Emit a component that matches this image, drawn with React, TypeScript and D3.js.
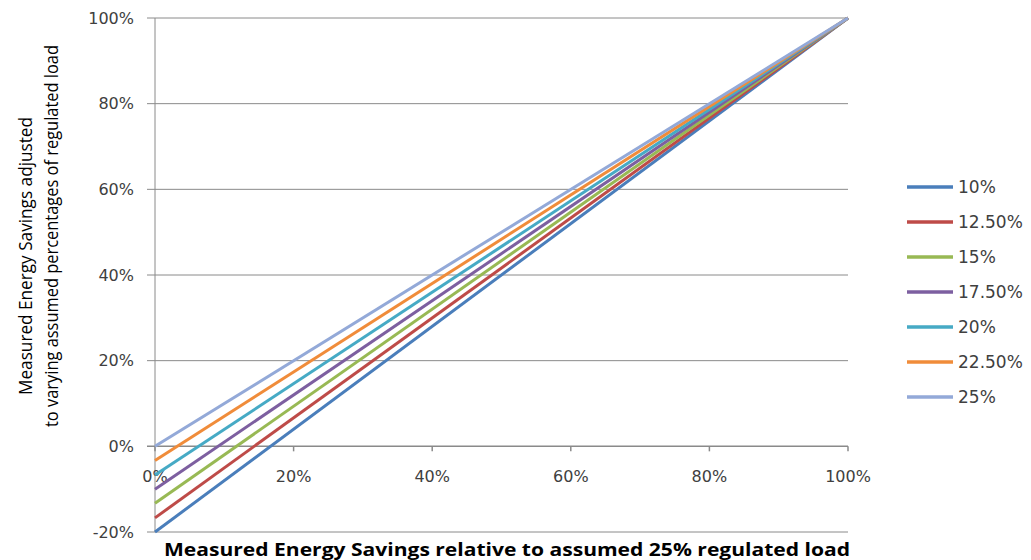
import { useEffect, useRef } from 'react'
import * as d3 from 'd3'

// assumed regulated load share for each series
const seriesNames = ['10%', '12.50%', '15%', '17.50%', '20%', '22.50%', '25%']
const seriesColors = ['#4a7ebb', '#be4b48', '#98b954', '#7d5fa0', '#46aac5', '#f08c3a', '#93a9d8']
// measured savings (x) and adjusted savings (y) for each series, in %
const xValues = [0, 100]
const startValues = [-20, -16.7, -13.3, -10, -6.7, -3.3, 0]
const endValues = [100, 100, 100, 100, 100, 100, 100]
const xTicks = [0, 20, 40, 60, 80, 100]
const yTicks = [-20, 0, 20, 40, 60, 80, 100]

const W = 1031
const H = 560
const PLOT = { left: 155, right: 848, top: 18, bottom: 532 }
const TICK_FONT = 'DejaVu Sans, Verdana, sans-serif'
const TITLE_FONT = 'Open Sans, Liberation Sans, sans-serif'

export default function App() {
  const svgRef = useRef<SVGSVGElement>(null)

  useEffect(() => {
    if (!svgRef.current) return
    const svg = d3.select(svgRef.current)
    svg.selectAll('*').remove()

    const x = d3.scaleLinear().domain([0, 100]).range([PLOT.left, PLOT.right])
    const y = d3.scaleLinear().domain([-20, 100]).range([PLOT.bottom, PLOT.top])

    svg.append('rect').attr('width', W).attr('height', H).attr('fill', '#fff')

    // Horizontal grid lines (extend a little left as tick marks)
    svg.append('g')
      .selectAll('line')
      .data(yTicks.filter(d => d !== 0))
      .join('line')
      .attr('x1', PLOT.left - 8).attr('x2', PLOT.right)
      .attr('y1', d => y(d)).attr('y2', d => y(d))
      .attr('stroke', '#8a8a8a').attr('stroke-width', 1)

    // Y axis line
    svg.append('line')
      .attr('x1', PLOT.left).attr('x2', PLOT.left)
      .attr('y1', PLOT.top).attr('y2', PLOT.bottom)
      .attr('stroke', '#8a8a8a')

    // Y tick labels
    svg.append('g')
      .selectAll('text')
      .data(yTicks)
      .join('text')
      .attr('x', PLOT.left - 21).attr('y', d => y(d))
      .attr('dy', '0.35em')
      .attr('text-anchor', 'end')
      .attr('font-family', TICK_FONT).attr('font-size', 16).attr('fill', '#404040')
      .text(d => `${d}%`)

    // X axis at y = 0 with ticks below
    svg.append('line')
      .attr('x1', PLOT.left - 8).attr('x2', PLOT.right)
      .attr('y1', y(0)).attr('y2', y(0))
      .attr('stroke', '#8a8a8a').attr('stroke-width', 1.5)
    svg.append('g')
      .selectAll('line')
      .data(xTicks)
      .join('line')
      .attr('x1', d => x(d)).attr('x2', d => x(d))
      .attr('y1', y(0)).attr('y2', y(0) + 5)
      .attr('stroke', '#8a8a8a').attr('stroke-width', 1.5)
    svg.append('g')
      .selectAll('text')
      .data(xTicks)
      .join('text')
      .attr('x', d => x(d)).attr('y', y(0) + 36)
      .attr('text-anchor', 'middle')
      .attr('font-family', TICK_FONT).attr('font-size', 16).attr('fill', '#404040')
      .text(d => `${d}%`)

    // Series lines
    const line = d3.line<[number, number]>().x(d => x(d[0])).y(d => y(d[1]))
    seriesNames.forEach((_, i) => {
      const pts: [number, number][] = [[xValues[0], startValues[i]], [xValues[1], endValues[i]]]
      svg.append('path').datum(pts)
        .attr('fill', 'none').attr('stroke', seriesColors[i]).attr('stroke-width', 3)
        .attr('d', line)
    })

    // Legend
    const lg = svg.append('g')
    seriesNames.forEach((name, i) => {
      const ly = 187 + i * 35
      lg.append('line').attr('x1', 907).attr('x2', 953).attr('y1', ly).attr('y2', ly)
        .attr('stroke', seriesColors[i]).attr('stroke-width', 3.5)
      lg.append('text').attr('x', 958).attr('y', ly).attr('dy', '0.35em')
        .attr('font-family', TICK_FONT).attr('font-size', 17).attr('fill', '#404040')
        .text(name)
    })

    // Axis titles
    svg.append('text')
      .attr('transform', 'translate(32,256) rotate(-90)')
      .attr('text-anchor', 'middle')
      .attr('font-family', TITLE_FONT).attr('font-size', 19).attr('fill', '#000')
      .attr('textLength', 278).attr('lengthAdjust', 'spacingAndGlyphs')
      .text('Measured Energy Savings adjusted')
    svg.append('text')
      .attr('transform', 'translate(58,236) rotate(-90)')
      .attr('text-anchor', 'middle')
      .attr('font-family', TITLE_FONT).attr('font-size', 19).attr('fill', '#000')
      .attr('textLength', 382).attr('lengthAdjust', 'spacingAndGlyphs')
      .text('to varying assumed percentages of regulated load')

    svg.append('text')
      .attr('x', 507).attr('y', 556)
      .attr('text-anchor', 'middle')
      .attr('font-family', TITLE_FONT).attr('font-size', 18).attr('font-weight', 'bold').attr('fill', '#000')
      .attr('textLength', 686).attr('lengthAdjust', 'spacingAndGlyphs')
      .text('Measured Energy Savings relative to assumed 25% regulated load')
  }, [])

  return <svg ref={svgRef} width={W} height={H} style={{ position: 'absolute', left: 0, top: 0 }} />
}
